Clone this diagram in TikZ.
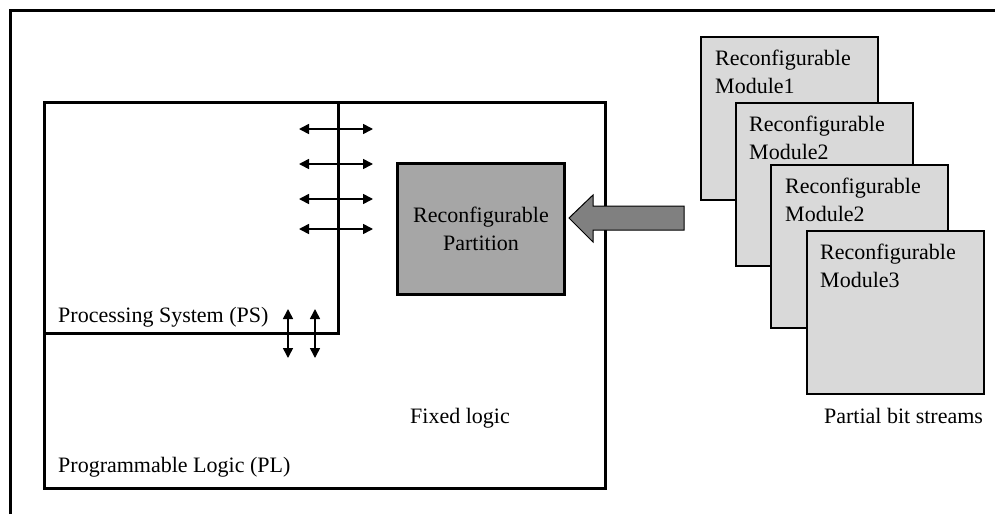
\documentclass[tikz,border=0pt]{standalone}
\usepackage{fontspec}
\setmainfont{Liberation Serif}
\usetikzlibrary{arrows.meta}
\definecolor{modgray}{HTML}{D9D9D9}
\definecolor{rpgray}{HTML}{A6A6A6}
\definecolor{arrowgray}{HTML}{808080}
\begin{document}
\begin{tikzpicture}[x=1pt,y=-1pt,
  lbl/.style={inner sep=0pt, font=\fontsize{22}{28.5}\selectfont},
  modlbl/.style={inner sep=0pt, anchor=base west, align=left,
    font=\fontsize{22}{28}\selectfont},
  thick3/.style={line width=3pt},
  module/.style={draw, line width=2.5pt, fill=modgray, minimum width=177pt,
    minimum height=163pt, inner sep=0pt, outer sep=0pt, anchor=north west},
  rpbox/.style={draw, line width=3pt, fill=rpgray, minimum width=167pt,
    minimum height=131pt, inner sep=0pt, outer sep=0pt, align=center,
    font=\fontsize{22}{28.5}\selectfont},
  bidir/.style={line width=1.6pt,
    {Triangle[length=10pt,width=10pt]}-{Triangle[length=10pt,width=10pt]}},
  bigarrow/.style={draw, line width=1pt, fill=arrowgray, line join=miter}
]
\useasboundingbox (0,0) rectangle (995,514);

% outer frame (only the top and left edges fall inside the page)
\draw[thick3] (10,514) -- (10,10) -- (995,10);

% programmable logic region
\node[draw, line width=3pt, minimum width=561pt, minimum height=386pt,
  inner sep=0pt, outer sep=0pt, anchor=north west] (pl) at (44,102) {};

% processing system corner
\coordinate (psc) at (338,333);
\draw[thick3] (pl.west |- psc) -- (psc) -- (psc |- pl.north);

% reconfigurable partition
\node[rpbox] (rp) at (481,229) {Reconfigurable\\Partition};

% PS <-> PL interface arrows
\foreach \i/\yy in {1/129,2/164,3/199,4/229}{
  \coordinate (hl\i) at (299,\yy);
  \coordinate (hr\i) at (373,\yy);
  \draw[bidir] (hl\i) -- (hr\i);
}
\foreach \i/\xx in {1/288,2/315}{
  \coordinate (vt\i) at (\xx,309);
  \coordinate (vb\i) at (\xx,358);
  \draw[bidir] (vt\i) -- (vb\i);
}

% labels
\node[lbl, anchor=base west] (pstxt) at (58,322) {Processing System (PS)};
\node[lbl, anchor=base west] (pltxt) at (58,472) {Programmable Logic (PL)};
\node[lbl, anchor=base] (fixed) at (460,423) {Fixed logic};

% stack of partial bitstreams
\node[module] (m1) at (701,37) {};
\node[modlbl] (t1) at ([shift={(14,56)}]m1.north west) {Reconfigurable\\Module1};
\node[module] (m2) at (736,103) {};
\node[modlbl] (t2) at ([shift={(13,56)}]m2.north west) {Reconfigurable\\Module2};
\node[module] (m3) at (771,165) {};
\node[modlbl] (t3) at ([shift={(14,56)}]m3.north west) {Reconfigurable\\Module2};
\node[module] (m4) at (807,231) {};
\node[modlbl] (t4) at ([shift={(13,56)}]m4.north west) {Reconfigurable\\Module3};
\node[lbl, anchor=base] (pbs) at (903.5,423) {Partial bit streams};

% loading arrow into the partition
\draw[bigarrow] (569,218) -- (593,195) -- (593,206) -- (684,206)
  -- (684,230) -- (593,230) -- (593,242) -- cycle;
\end{tikzpicture}
\end{document}
